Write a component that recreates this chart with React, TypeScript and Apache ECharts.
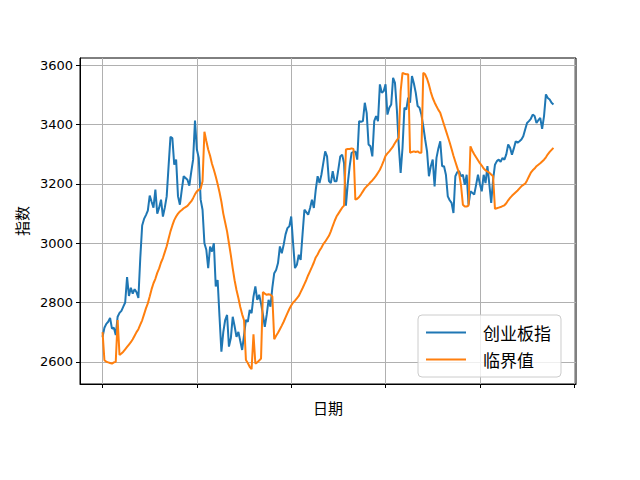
import React, { useEffect, useRef } from "react";
import * as echarts from "echarts";

const seriesNames = ["创业板指", "临界值"];
const yTicks = [2600, 2800, 3000, 3200, 3400, 3600];
const xTicks = [0, 50, 100, 150, 200, 250];

const gemIndex = [
  2684, 2715, 2728, 2735, 2748, 2712, 2715, 2690, 2752, 2765,
  2772, 2786, 2800, 2886, 2822, 2850, 2830, 2845, 2835, 2815,
  2950, 3060, 3082, 3095, 3110, 3161, 3140, 3120, 3181, 3100,
  3120, 3147, 3090, 3120, 3158, 3260, 3359, 3355, 3265, 3282,
  3158, 3130, 3180, 3226, 3220, 3214, 3194, 3240, 3282, 3414,
  3316, 3288, 3147, 3113, 3000, 2978, 2916, 2989, 2972, 3000,
  2854, 2876, 2752, 2634, 2700, 2741, 2758, 2651, 2680, 2752,
  2720, 2684, 2701, 2670, 2640, 2690, 2741, 2735, 2775, 2764,
  2820, 2854, 2809, 2826, 2797, 2760, 2718, 2758, 2809, 2786,
  2850, 2899, 2910, 2933, 2989, 2966, 2995, 3030, 3051, 3057,
  3090, 3000, 2916, 2927, 2961, 2944, 3030, 3113, 3105, 3096,
  3119, 3147, 3119, 3180, 3226, 3203, 3231, 3270, 3310, 3293,
  3210, 3203, 3243, 3209, 3209, 3250, 3293, 3299, 3271, 3127,
  3203, 3260, 3305, 3308, 3310, 3282, 3412, 3410, 3412, 3474,
  3440, 3333, 3327, 3293, 3412, 3429, 3412, 3536, 3508, 3513,
  3536, 3434, 3457, 3468, 3558, 3541, 3451, 3330, 3237, 3322,
  3457, 3451, 3491, 3474, 3564, 3540, 3508, 3463, 3457, 3434,
  3395, 3350, 3310, 3226, 3260, 3282, 3192, 3288, 3320, 3344,
  3260, 3260, 3231, 3158, 3145, 3136, 3102, 3226, 3240, 3243,
  3226, 3231, 3197, 3231, 3130, 3175, 3170, 3164, 3197, 3231,
  3200, 3175, 3231, 3203, 3260, 3200, 3136, 3214, 3265, 3277,
  3282, 3275, 3288, 3282, 3300, 3333, 3322, 3299, 3320, 3344,
  3339, 3344, 3350, 3361, 3384, 3406, 3412, 3420, 3434, 3429,
  3406, 3415, 3423, 3386, 3429, 3502, 3490, 3485, 3474, 3468,
];

const threshold = [
  2700, 2605, 2600, 2598, 2596, 2594, 2598, 2600, 2741, 2623,
  2628, 2634, 2642, 2650, 2658, 2666, 2676, 2688, 2700, 2710,
  2725, 2740, 2760, 2780, 2797, 2820, 2845, 2865, 2880, 2900,
  2915, 2935, 2950, 2970, 2990, 3015, 3040, 3060, 3078, 3090,
  3100, 3107, 3112, 3118, 3122, 3126, 3134, 3141, 3152, 3165,
  3175, 3180, 3184, 3209, 3376, 3345, 3316, 3295, 3268, 3248,
  3225, 3200, 3172, 3140, 3100, 3070, 3040, 3000, 2960, 2915,
  2875, 2842, 2815, 2785, 2760, 2740, 2606, 2596, 2583, 2575,
  2693, 2594, 2598, 2604, 2611, 2835, 2830, 2826, 2828, 2826,
  2820, 2676, 2688, 2698, 2710, 2722, 2735, 2750, 2764, 2778,
  2790, 2800, 2806, 2814, 2822, 2835, 2848, 2862, 2876, 2892,
  2906, 2920, 2935, 2952, 2962, 2975, 2985, 2997, 3005, 3015,
  3025, 3040, 3058, 3075, 3090, 3100, 3110, 3120, 3127, 3316,
  3318, 3318, 3320, 3318, 3147, 3150, 3156, 3165, 3175, 3185,
  3192, 3198, 3206, 3212, 3220, 3228, 3238, 3248, 3262, 3278,
  3295, 3303, 3310, 3318, 3327, 3338, 3348, 3356, 3513, 3575,
  3572, 3570, 3570, 3305, 3308, 3310, 3308, 3310, 3305, 3305,
  3575, 3570, 3555, 3535, 3510, 3490, 3475, 3462, 3450, 3440,
  3420, 3400, 3380, 3360, 3340, 3318, 3295, 3275, 3255, 3235,
  3195, 3130, 3124, 3124, 3127, 3327, 3312, 3300, 3290, 3280,
  3270, 3262, 3252, 3246, 3242, 3238, 3232, 3226, 3116, 3118,
  3120, 3122, 3125, 3128, 3135, 3145, 3153, 3160, 3166, 3172,
  3178, 3185, 3192, 3197, 3201, 3212, 3225, 3238, 3246, 3252,
  3260, 3265, 3270, 3276, 3282, 3290, 3300, 3308, 3315, 3322,
];

const CJK = '"Noto Sans CJK SC", "Noto Sans", sans-serif';
const LATIN = '"DejaVu Sans", sans-serif';

export default function App() {
  const ref = useRef<HTMLDivElement>(null);

  useEffect(() => {
    if (!ref.current) return;
    const chart = echarts.init(ref.current, null, { renderer: "svg" });
    const n = gemIndex.length;
    const pad = (n - 1) * 0.05;
    const allVals = gemIndex.concat(threshold);
    const vMin = Math.min(...allVals);
    const vMax = Math.max(...allVals);
    const vPad = (vMax - vMin) * 0.05;

    chart.setOption({
      animation: false,
      backgroundColor: "#ffffff",
      grid: {
        left: 80,
        right: 64,
        top: 58,
        bottom: 96,
        show: true,
        borderColor: "#000000",
        borderWidth: 1,
        backgroundColor: "transparent",
      },
      legend: {
        left: 418,
        top: 315,
        orient: "vertical",
        padding: [8, 10, 8, 8],
        itemGap: 8,
        itemWidth: 40,
        itemHeight: 2,
        icon: "rect",
        backgroundColor: "rgba(255,255,255,0.8)",
        borderColor: "#cccccc",
        borderWidth: 1,
        borderRadius: 4,
        textStyle: {
          fontFamily: CJK,
          fontSize: 17,
          color: "#000000",
          padding: [0, 0, 0, 12],
          lineHeight: 19,
        },
        data: seriesNames,
      },
      xAxis: {
        type: "value",
        min: -pad,
        max: n - 1 + pad,
        name: "日期",
        nameLocation: "middle",
        nameGap: 16,
        nameTextStyle: { fontFamily: CJK, fontSize: 15, color: "#000000" },
        axisLine: { show: true, onZero: false, lineStyle: { color: "#000000", width: 1 } },
        axisTick: {
          show: true,
          inside: false,
          length: 4,
          customValues: xTicks,
          lineStyle: { color: "#000000", width: 1 },
        },
        axisLabel: { show: false, customValues: xTicks },
        splitLine: { show: true, lineStyle: { color: "#b0b0b0", width: 1 } },
      },
      yAxis: {
        type: "value",
        min: vMin - vPad,
        max: vMax + vPad,
        name: "指数",
        nameLocation: "middle",
        nameRotate: 90,
        nameGap: 46,
        nameTextStyle: { fontFamily: CJK, fontSize: 15, color: "#000000" },
        axisLine: { show: true, onZero: false, lineStyle: { color: "#000000", width: 1 } },
        axisTick: {
          show: true,
          inside: false,
          length: 4,
          customValues: yTicks,
          lineStyle: { color: "#000000", width: 1 },
        },
        axisLabel: {
          show: true,
          customValues: yTicks,
          formatter: (v: number) => String(v),
          fontFamily: LATIN,
          fontSize: 13,
          color: "#000000",
          margin: 7,
        },
        splitLine: { show: true, lineStyle: { color: "#b0b0b0", width: 1 } },
      },
      series: [
        {
          name: seriesNames[0],
          type: "line",
          data: gemIndex.map((v, i) => [i, v]),
          showSymbol: false,
          symbol: "none",
          color: "#1f77b4",
          lineStyle: { color: "#1f77b4", width: 2 },
          z: 3,
        },
        {
          name: seriesNames[1],
          type: "line",
          data: threshold.map((v, i) => [i, v]),
          showSymbol: false,
          symbol: "none",
          color: "#ff7f0e",
          lineStyle: { color: "#ff7f0e", width: 2 },
          z: 4,
        },
      ],
    });

    return () => {
      chart.dispose();
    };
  }, []);

  return (
    <div
      ref={ref}
      style={{ position: "fixed", left: 0, top: 0, width: 640, height: 480, background: "#fff" }}
    />
  );
}
